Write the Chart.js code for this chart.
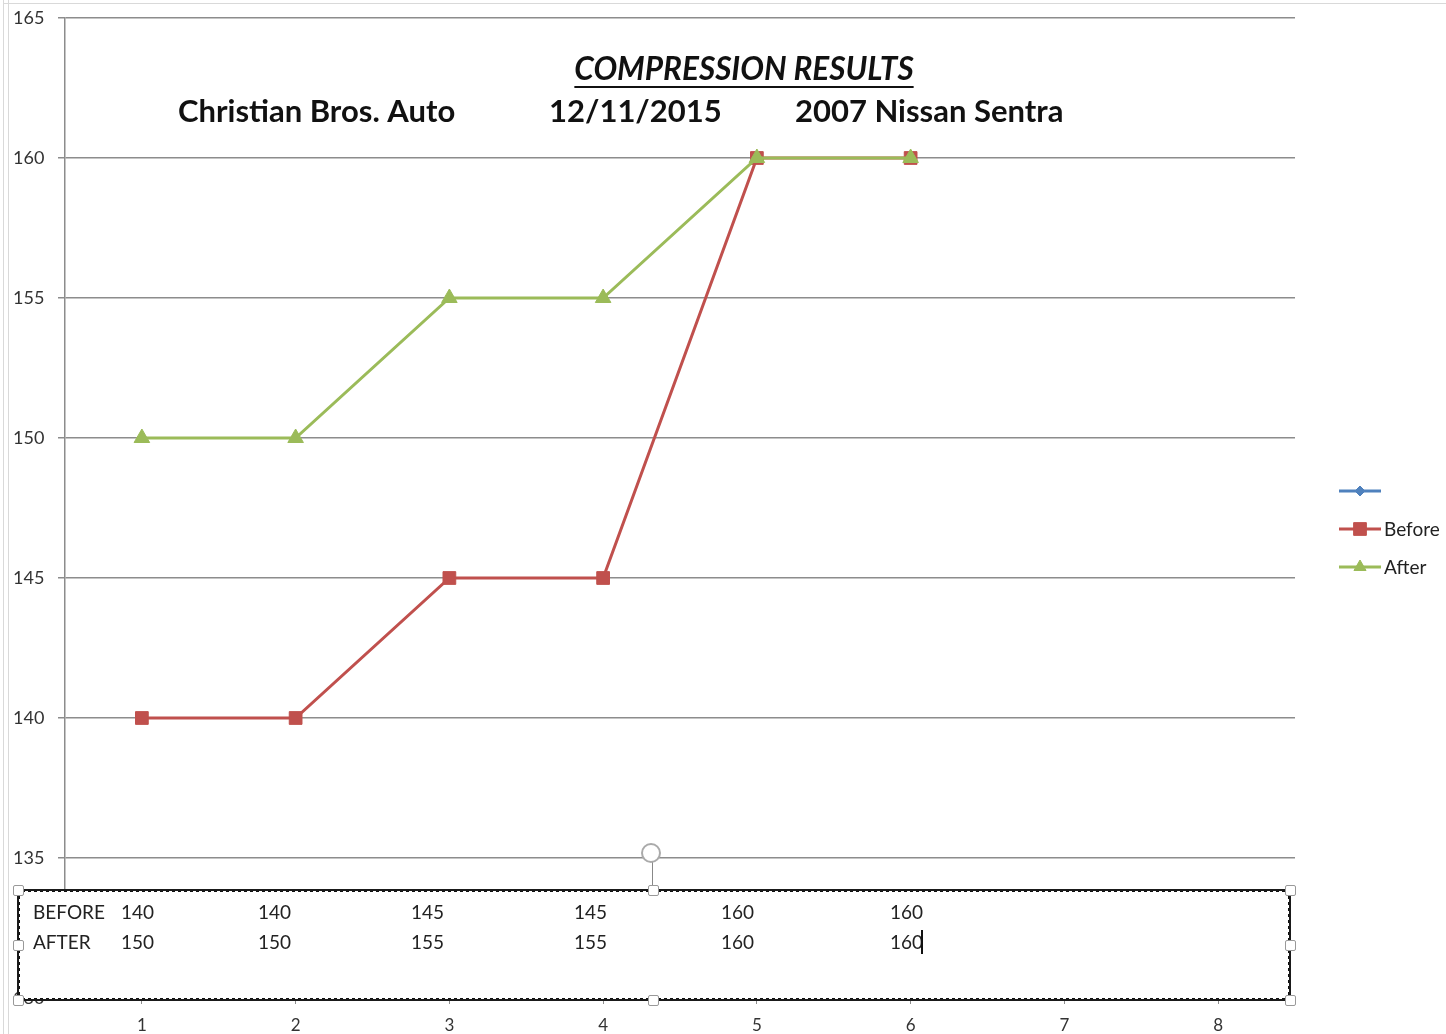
<!DOCTYPE html>
<html>
<head>
<meta charset="utf-8">
<script src="https://cdn.jsdelivr.net/npm/chart.js@4/dist/chart.umd.min.js"></script>
<style>
  html, body { margin: 0; padding: 0; background: #fff; }
  #wrap { position: relative; width: 1446px; height: 1034px; overflow: hidden; font-family: Lato, "Open Sans", sans-serif; }
  #chart { position: absolute; left: 0; top: 0; }
  .frame-left { position: absolute; left: 3px; top: 0; width: 4px; height: 1034px; border-left: 1px solid #d9d9d9; border-right: 1px solid #d9d9d9; }
  .frame-top { position: absolute; left: 3px; top: 3px; width: 1443px; height: 0; border-top: 1px solid #d9d9d9; }
  #box { position: absolute; left: 17px; top: 889px; width: 1268px; height: 106px; background: #fff; border: 3px dotted #111; }
  #box::before { content: ''; position: absolute; left: -3px; top: -3px; right: -3px; bottom: -3px; border: 2px solid #1a1a1a; }
  .row { position: absolute; left: 0; font-size: 19px; color: #222; white-space: nowrap; }
  .row span { position: absolute; top: 0; }
  .handle { position: absolute; width: 9px; height: 9px; background: #fff; border: 1px solid #999; border-radius: 2px; }
  #rot { position: absolute; left: 641px; top: 843px; width: 20px; height: 20px; border: 2px solid #aaa; border-radius: 50%; background: #fff; box-sizing: border-box; }
  #rotline { position: absolute; left: 652px; top: 862px; width: 1px; height: 28px; background: #888; }
  #cursor { position: absolute; width: 2px; height: 24px; background: #111; }
</style>
</head>
<body>
<div id="wrap">
  <canvas id="chart" width="1446" height="1034"></canvas>
  <div class="frame-left"></div>
  <div class="frame-top"></div>
  <div id="rotline"></div>
  <div id="rot"></div>
  <div id="box"></div>
</div>
<script>
// chart data
const categories = ['1', '2', '3', '4', '5', '6', '7', '8'];
const seriesBlank = [];
const beforeValues = [140, 140, 145, 145, 160, 160];
const afterValues = [150, 150, 155, 155, 160, 160];
const rowLabels = ['BEFORE', 'AFTER'];
const titleText = 'COMPRESSION RESULTS';
const subtitleParts = ['Christian Bros. Auto', '12/11/2015', '2007 Nissan Sentra'];

// layout for the overlay text box (page pixels)
const boxCols = [101, 238, 391, 554, 701, 870];
const boxRows = [8, 38];

const BLUE = '#4F81BD';
const RED = '#C0504D';
const GREEN = '#9BBB59';
const GRID = '#8c8c8c';
const FONT = 'Lato, "Open Sans", sans-serif';

// text box contents
const box = document.getElementById('box');
[beforeValues, afterValues].forEach((vals, r) => {
  const row = document.createElement('div');
  row.className = 'row';
  row.style.top = boxRows[r] + 'px';
  let html = '<span style="left:13px">' + rowLabels[r] + '</span>';
  vals.forEach((v, i) => {
    html += '<span style="left:' + boxCols[i] + 'px">' + v + '</span>';
  });
  row.innerHTML = html;
  box.appendChild(row);
});
const cur = document.createElement('div');
cur.id = 'cursor';
cur.style.left = '901px';
cur.style.top = '38px';
box.appendChild(cur);

// selection handles
const wrap = document.getElementById('wrap');
[[18, 890], [653, 890], [1290, 890], [18, 945], [1290, 945], [18, 1000], [653, 1000], [1290, 1000]].forEach(([x, y]) => {
  const h = document.createElement('div');
  h.className = 'handle';
  h.style.left = (x - 5) + 'px';
  h.style.top = (y - 5) + 'px';
  wrap.appendChild(h);
});

const titlePlugin = {
  id: 'titleText',
  afterDraw(chart) {
    const ctx = chart.ctx;
    ctx.save();
    ctx.fillStyle = '#111';
    ctx.textBaseline = 'middle';
    ctx.font = 'italic bold 31.5px ' + FONT;
    ctx.textAlign = 'center';
    ctx.fillText(titleText, 744, 70);
    const w = ctx.measureText(titleText).width;
    ctx.fillRect(744 - w / 2, 86, w, 2);
    ctx.font = 'bold 31px ' + FONT;
    ctx.textAlign = 'left';
    const xs = [178, 549, 795];
    subtitleParts.forEach((t, i) => ctx.fillText(t, xs[i], 112));
    ctx.restore();
  }
};

const legendPlugin = {
  id: 'sideLegend',
  afterDraw(chart) {
    const ctx = chart.ctx;
    chart.data.datasets.forEach((ds, i) => {
      const y = 491 + i * 38;
      ctx.save();
      ctx.strokeStyle = ds.borderColor;
      ctx.lineWidth = 3;
      ctx.beginPath();
      ctx.moveTo(1339, y);
      ctx.lineTo(1381, y);
      ctx.stroke();
      ctx.fillStyle = ds.borderColor;
      ctx.lineWidth = 1;
      Chart.helpers.drawPoint(ctx, { pointStyle: ds.pointStyle, radius: ds.legendRadius, borderWidth: 1 }, 1360, y);
      ctx.fillStyle = '#222';
      ctx.font = '19px ' + FONT;
      ctx.textBaseline = 'middle';
      ctx.fillText(ds.label, 1384, y + 1);
      ctx.restore();
    });
  }
};

new Chart(document.getElementById('chart'), {
  type: 'line',
  data: {
    labels: categories,
    datasets: [
      {
        label: '',
        data: seriesBlank,
        borderColor: BLUE,
        backgroundColor: BLUE,
        pointStyle: 'rectRot',
        legendRadius: 5,
        order: 2,
      },
      {
        label: 'Before',
        data: beforeValues,
        borderColor: RED,
        backgroundColor: RED,
        borderWidth: 3,
        pointStyle: 'rect',
        pointRadius: 9,
        pointBorderWidth: 1,
        legendRadius: 9,
        tension: 0,
        order: 1,
      },
      {
        label: 'After',
        data: afterValues,
        borderColor: GREEN,
        backgroundColor: GREEN,
        borderWidth: 3,
        pointStyle: 'triangle',
        pointRadius: 9,
        pointBorderWidth: 1,
        legendRadius: 7,
        tension: 0,
        order: 0,
      },
    ],
  },
  options: {
    responsive: false,
    animation: false,
    events: [],
    layout: { padding: { left: 13, right: 151, top: 18, bottom: 0 } },
    plugins: { legend: { display: false }, tooltip: { enabled: false }, title: { display: false } },
    scales: {
      x: {
        offset: true,
        grid: { drawOnChartArea: false, drawTicks: true, tickLength: 6, color: GRID, lineWidth: 1 },
        border: { color: GRID, width: 1.5 },
        ticks: { color: '#333', font: { family: FONT, size: 17 }, padding: 11 },
        afterFit: (s) => { s.height = 36; },
      },
      y: {
        min: 130,
        max: 165,
        ticks: { stepSize: 5, color: '#333', font: { family: FONT, size: 18 }, crossAlign: 'far', padding: 4 },
        grid: { color: GRID, lineWidth: 1.5, tickLength: 7 },
        border: { color: GRID, width: 1.5 },
        afterFit: (s) => { s.width = 52; },
      },
    },
  },
  plugins: [titlePlugin, legendPlugin],
});
</script>
</body>
</html>
